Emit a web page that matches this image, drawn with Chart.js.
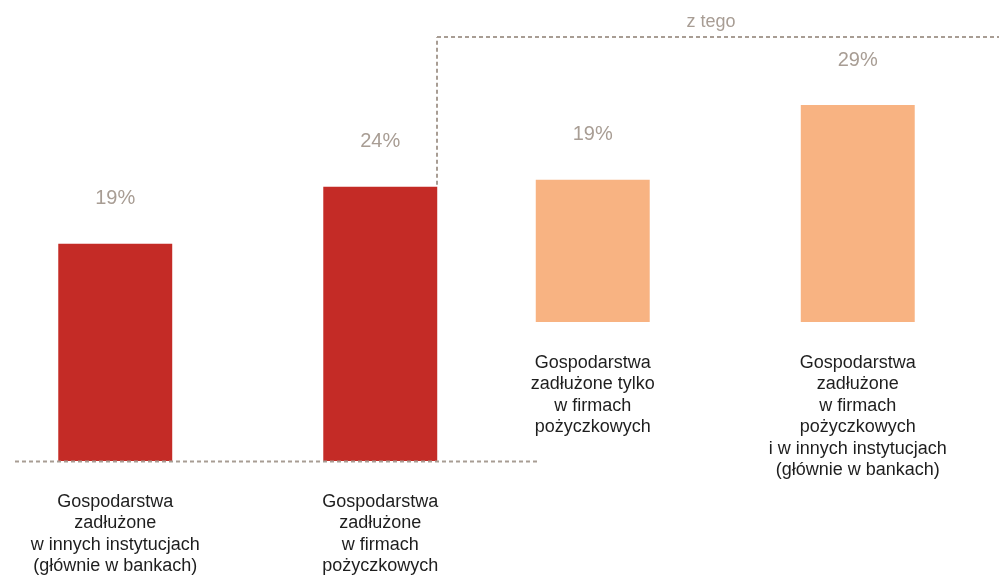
<!DOCTYPE html>
<html>
<head>
<meta charset="utf-8">
<script src="https://cdn.jsdelivr.net/npm/chart.js@4"></script>
<style>
  html, body { margin: 0; padding: 0; background: #fff; }
  #wrap { width: 999px; height: 575px; position: relative; }
</style>
</head>
<body>
<div id="wrap"><canvas id="zadluzenie"></canvas></div>
<script>
// gospodarstwa zadłużone - udział w %

// dwie grupy: ogółem oraz "z tego" (podział zadłużonych w firmach pożyczkowych)
var grupy = ['ogółem', 'z tego'];

var ogolemWartosci = [19, 24];
var ogolemEtykiety = [
    ['Gospodarstwa', 'zadłużone', 'w innych instytucjach', '(głównie w bankach)'],
    ['Gospodarstwa', 'zadłużone', 'w firmach', 'pożyczkowych']
];

var zTegoWartosci = [19, 29];
var zTegoEtykiety = [
    ['Gospodarstwa', 'zadłużone tylko', 'w firmach', 'pożyczkowych'],
    ['Gospodarstwa', 'zadłużone', 'w firmach', 'pożyczkowych', 'i w innych instytucjach', '(głównie w bankach)']
];

var podpisGrupy = 'z tego';

var CZERWONY = '#C42B26';
var POMARANCZ = '#F8B382';
var SZARY = '#A89D94';
var FONT = "'Liberation Sans', Arial, Helvetica, sans-serif";

// zbudowanie zestawów - każdy słupek to osobny dataset, puste miejsca pomijane (skipNull)
var datasets = [];
ogolemWartosci.forEach(function (v, i) {
    datasets.push({
        data: [v, null],
        etykieta: ogolemEtykiety[i],
        yAxisID: 'y',
        backgroundColor: CZERWONY
    });
});
zTegoWartosci.forEach(function (v, i) {
    datasets.push({
        data: [null, v],
        etykieta: zTegoEtykiety[i],
        yAxisID: 'y2',
        backgroundColor: POMARANCZ
    });
});

function dashLine(ctx, x1, y1, x2, y2) {
    ctx.save();
    ctx.strokeStyle = SZARY;
    ctx.lineWidth = 2;
    ctx.setLineDash([4, 3]);
    ctx.beginPath();
    ctx.moveTo(x1, y1);
    ctx.lineTo(x2, y2);
    ctx.stroke();
    ctx.restore();
}

// podpisy wartości, opisy słupków i linie przerywane
var opisyPlugin = {
    id: 'opisy',
    afterDatasetsDraw: function (chart) {
        var ctx = chart.ctx;
        var area = chart.chartArea;
        var yBase = chart.scales.y.getPixelForValue(0);

        // linia bazowa pod czerwonymi słupkami
        dashLine(ctx, area.left + 6, yBase + 0.5, 540, yBase + 0.5);

        // łącznik "z tego" od drugiego słupka w prawo
        var drugi = chart.getDatasetMeta(1).data[0];
        var xL = Math.round(drugi.x + drugi.width / 2);
        var yTop = area.top - 24;
        dashLine(ctx, xL, drugi.y - 2, xL, yTop);
        dashLine(ctx, xL, yTop, chart.width, yTop);

        ctx.save();
        ctx.textAlign = 'center';
        ctx.textBaseline = 'middle';
        ctx.fillStyle = SZARY;
        ctx.font = '18px ' + FONT;
        ctx.fillText(podpisGrupy, 711, yTop - 15);

        chart.data.datasets.forEach(function (ds, di) {
            var meta = chart.getDatasetMeta(di);
            ds.data.forEach(function (v, i) {
                if (v === null) return;
                var bar = meta.data[i];
                ctx.fillStyle = SZARY;
                ctx.font = '20px ' + FONT;
                ctx.fillText(v + '%', bar.x, bar.y - 45);

                ctx.fillStyle = '#1e1e1e';
                ctx.font = '18px ' + FONT;
                ds.etykieta.forEach(function (linia, k) {
                    ctx.fillText(linia, bar.x, bar.base + 41 + k * 21.5);
                });
            });
        });
        ctx.restore();
    }
};

var ctx = document.getElementById('zadluzenie').getContext('2d');
var wykres = new Chart(ctx, {
    type: 'bar',
    data: {
        labels: grupy,
        datasets: datasets
    },
    options: {
        responsive: true,
        maintainAspectRatio: false,
        animation: false,
        layout: {
            padding: { left: 9, right: 35, top: 61, bottom: 114 }
        },
        datasets: {
            bar: {
                skipNull: true,
                categoryPercentage: 1.11,
                barPercentage: 0.43
            }
        },
        scales: {
            x: { display: false },
            y: { display: false, min: 0, max: 35 },
            y2: { display: false, min: -18.58, max: 34.88 }
        },
        plugins: {
            legend: { display: false },
            tooltip: { enabled: false }
        }
    },
    plugins: [opisyPlugin]
});
</script>
</body>
</html>
